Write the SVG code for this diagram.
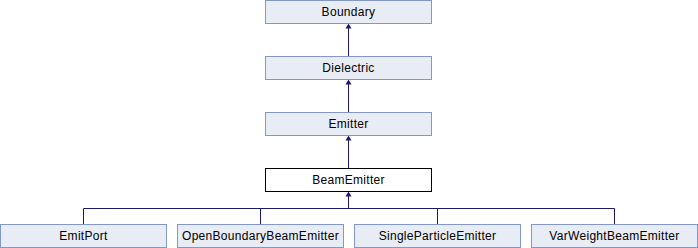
<svg xmlns="http://www.w3.org/2000/svg" width="698" height="248" viewBox="0 0 698 248">
  <style>
    .box rect { fill: #e8ecf5; stroke: #8497c9; stroke-width: 1; }
    .cur rect { fill: #ffffff; stroke: #000000; stroke-width: 1; }
    text { font-family: "Liberation Sans", Arial, sans-serif; font-size: 12px; letter-spacing: 0.3px; fill: #000000; text-anchor: middle; }
    .edge { fill: none; stroke: #191970; stroke-width: 1; }
    .head { fill: #191970; }
  </style>

  <rect x="0" y="0" width="698" height="248" fill="#ffffff"/>

  <g id="connectors">
    <path class="edge" d="M348.5,56 V24"/>
    <path class="edge" d="M348.5,112 V80"/>
    <path class="edge" d="M348.5,168 V136"/>
    <path class="edge" d="M348.5,208.5 V192"/>
    <path class="edge" d="M83.5,224 V208.5 H614.5 V224"/>
    <path class="edge" d="M260.5,224 V208.5"/>
    <path class="edge" d="M437.5,224 V208.5"/>
    <path class="head" d="M345.5,28.5 L348.5,23.5 L351.5,28.5 Z"/>
    <path class="head" d="M345.5,84.5 L348.5,79.5 L351.5,84.5 Z"/>
    <path class="head" d="M345.5,140.5 L348.5,135.5 L351.5,140.5 Z"/>
    <path class="head" d="M345.5,196.5 L348.5,191.5 L351.5,196.5 Z"/>
  </g>

  <g id="node-boundary" class="box">
    <rect x="265.5" y="0.5" width="166" height="23"/>
    <text x="348.5" y="16">Boundary</text>
  </g>
  <g id="node-dielectric" class="box">
    <rect x="265.5" y="56.5" width="166" height="23"/>
    <text x="348.5" y="72">Dielectric</text>
  </g>
  <g id="node-emitter" class="box">
    <rect x="265.5" y="112.5" width="166" height="23"/>
    <text x="348.5" y="128">Emitter</text>
  </g>
  <g id="node-beamemitter" class="cur">
    <rect x="265.5" y="168.5" width="166" height="23"/>
    <text x="348.5" y="184">BeamEmitter</text>
  </g>
  <g id="node-emitport" class="box">
    <rect x="0.5" y="224.5" width="166" height="23"/>
    <text x="83.5" y="240">EmitPort</text>
  </g>
  <g id="node-openboundarybeamemitter" class="box">
    <rect x="177.5" y="224.5" width="166" height="23"/>
    <text x="260.5" y="240">OpenBoundaryBeamEmitter</text>
  </g>
  <g id="node-singleparticleemitter" class="box">
    <rect x="354.5" y="224.5" width="166" height="23"/>
    <text x="437.5" y="240">SingleParticleEmitter</text>
  </g>
  <g id="node-varweightbeamemitter" class="box">
    <rect x="531.5" y="224.5" width="166" height="23"/>
    <text x="614.5" y="240">VarWeightBeamEmitter</text>
  </g>
</svg>
